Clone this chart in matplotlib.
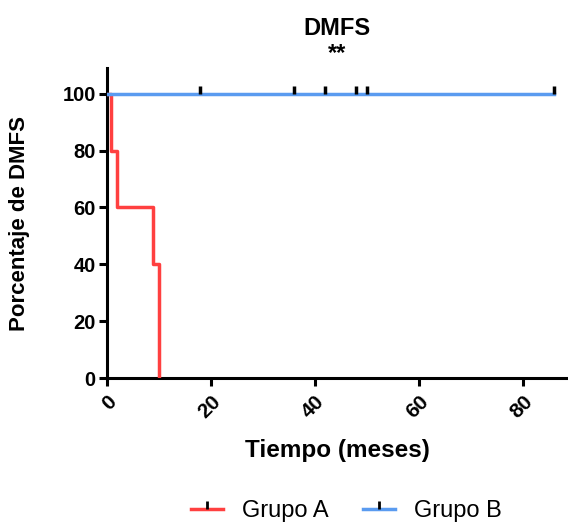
import matplotlib.pyplot as plt
from matplotlib.lines import Line2D

plt.rcParams['font.family'] = ['Liberation Sans', 'DejaVu Sans']

# Kaplan-Meier steps (meses, % DMFS)
grupo_a_t = [0, 0.9, 1.9, 8.9, 10.0]
grupo_a_s = [100, 80, 60, 40, 0]
grupo_b_t = [0, 86]
grupo_b_s = [100, 100]
grupo_b_cens = [18, 36, 42, 48, 50, 86]

rojo = '#FF4040'
azul = '#5A9BF0'

fig = plt.figure(figsize=(5.68, 5.25), dpi=100)
ax = fig.add_axes([0.188, 0.28, 0.812, 0.59])

ax.step(grupo_a_t, grupo_a_s, where='post', color=rojo, lw=2.5, zorder=3)
ax.step(grupo_b_t, grupo_b_s, where='post', color=azul, lw=2.5, zorder=3)
# censored observations: short ticks sitting on the curve
ax.plot(grupo_b_cens, [100] * len(grupo_b_cens), ls='none', marker=2,
        color='black', ms=6, mew=2.5, zorder=4)

ax.set_xlim(0, 88.7)
ax.set_ylim(0, 109)
ax.set_xticks([0, 20, 40, 60, 80])
ax.set_yticks([0, 20, 40, 60, 80, 100])
for s in ['top', 'right']:
    ax.spines[s].set_visible(False)
for s in ['left', 'bottom']:
    ax.spines[s].set_linewidth(2.2)
ax.tick_params(width=2.2, length=6, pad=2)
ax.tick_params(axis='y', labelsize=14.5)
ax.tick_params(axis='x', labelsize=15, pad=4)
for lab in ax.get_xticklabels():
    lab.set_rotation(45)
    lab.set_ha('right')
    lab.set_va('top')
    lab.set_rotation_mode('anchor')
for lab in ax.get_xticklabels() + ax.get_yticklabels():
    lab.set_fontweight('bold')

ax.set_xlabel('Tiempo (meses)', fontsize=17.5, fontweight='bold', va='center')
ax.set_ylabel('Porcentaje de DMFS', fontsize=16, fontweight='bold', va='center')
ax.xaxis.set_label_coords(0.5, -0.235)
ax.yaxis.set_label_coords(-0.189, 0.5)
ax.set_title('DMFS\n**', fontsize=17, fontweight='bold', pad=6, linespacing=1.1)

handles = [
    Line2D([], [], color=rojo, lw=2.5, marker=2, mec='black', ms=6, mew=2),
    Line2D([], [], color=azul, lw=2.5, marker=2, mec='black', ms=6, mew=2),
]
fig.legend(handles, ['Grupo A', 'Grupo B'], loc='center', ncol=2,
           bbox_to_anchor=(0.61, 0.027), frameon=False, fontsize=17,
           handlelength=1.35, handletextpad=0.8, columnspacing=1.45,
           borderpad=0.2)

fig.savefig('out.png', dpi=100)
